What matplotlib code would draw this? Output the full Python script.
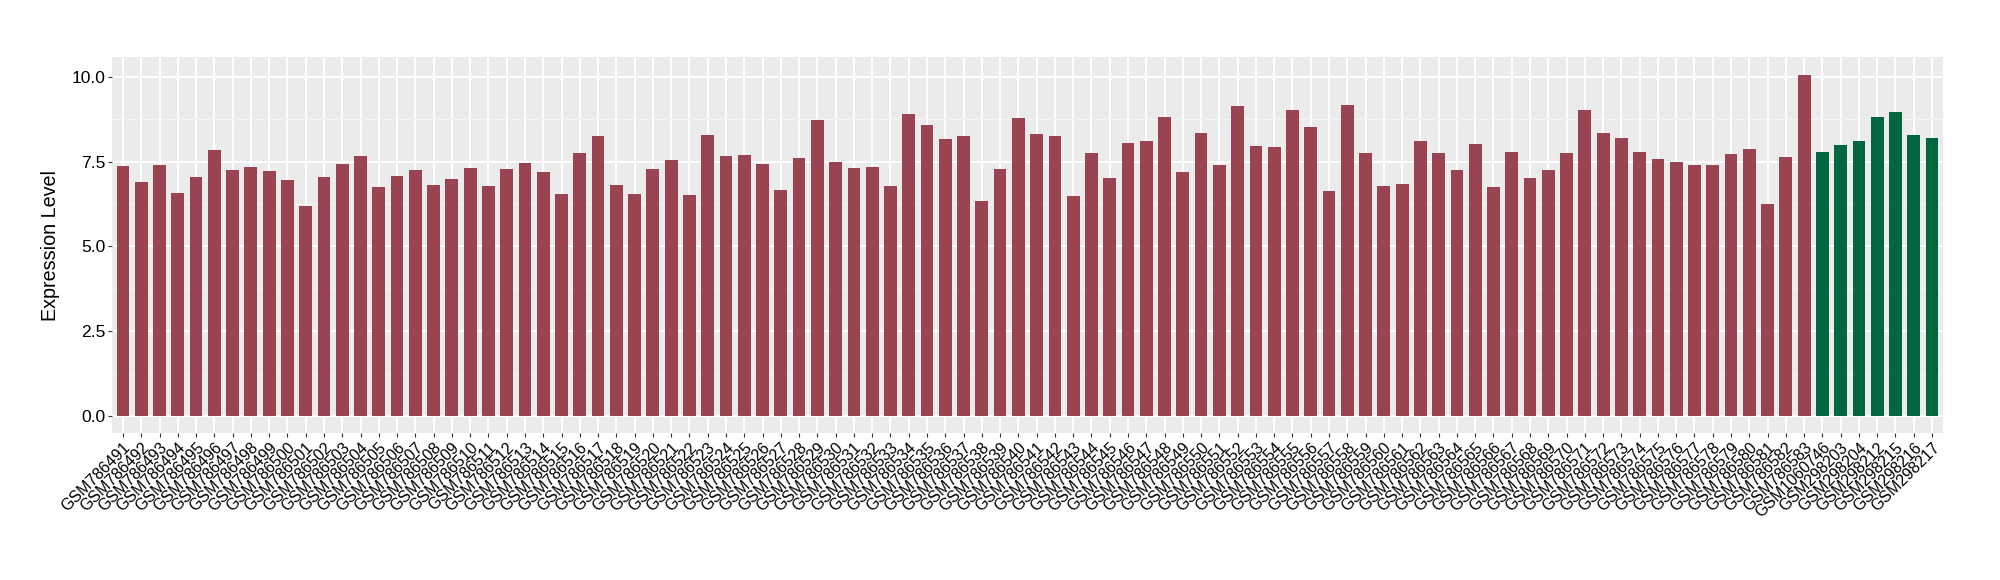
import numpy as np
import matplotlib
matplotlib.use("Agg")
import matplotlib.pyplot as plt
from matplotlib.ticker import MultipleLocator

# sample names: 93 tumour-ish samples then 7 controls
red_samples = ["GSM%d" % n for n in range(786491, 786584)]
green_samples = ["GSM1060746", "GSM298203", "GSM298204", "GSM298212",
                 "GSM298215", "GSM298216", "GSM298217"]

red_values = [
    7.38, 6.91, 7.41, 6.56, 7.03, 7.85, 7.24, 7.35, 7.21, 6.94,
    6.19, 7.03, 7.44, 7.65, 6.76, 7.06, 7.26, 6.82, 6.97, 7.32,
    6.79, 7.29, 7.47, 7.18, 6.53, 7.76, 8.24, 6.82, 6.53, 7.29,
    7.53, 6.50, 8.29, 7.65, 7.68, 7.44, 6.65, 7.59, 8.71, 7.50,
    7.32, 7.35, 6.79, 8.91, 8.59, 8.15, 8.24, 6.35, 7.29, 8.79,
    8.32, 8.26, 6.47, 7.74, 7.00, 8.06, 8.09, 8.82, 7.18, 8.35,
    7.41, 9.15, 7.97, 7.94, 9.03, 8.53, 6.62, 9.18, 7.74, 6.79,
    6.85, 8.09, 7.76, 7.24, 8.03, 6.74, 7.79, 7.00, 7.24, 7.76,
    9.03, 8.35, 8.18, 7.79, 7.56, 7.50, 7.41, 7.41, 7.71, 7.88,
    6.26, 7.62, 10.06,
]
green_values = [7.79, 8.00, 8.09, 8.82, 8.97, 8.29, 8.18]

samples = red_samples + green_samples
values = red_values + green_values
colors = ["#9A4351"] * len(red_values) + ["#00673F"] * len(green_values)

fig = plt.figure(figsize=(20, 5.8), dpi=100)
ax = fig.add_axes([0.056, 0.2534, 0.9155, 0.6483])
ax.set_facecolor("#EBEBEB")

x = np.arange(len(samples))
ax.bar(x, values, width=0.7, color=colors, zorder=3)

ax.set_xlim(-0.6, len(samples) - 0.4)
ax.set_ylim(-0.504, 10.58)

# ggplot-ish grid
ax.yaxis.set_major_locator(MultipleLocator(2.5))
ax.yaxis.set_minor_locator(MultipleLocator(1.25))
ax.grid(which="major", axis="both", color="white", linewidth=1.4, zorder=1)
ax.grid(which="minor", axis="y", color="#F5F5F5", linewidth=0.8, zorder=1)
for s in ax.spines.values():
    s.set_visible(False)

ax.set_xticks(x)
ax.set_xticklabels(samples, rotation=45, ha="right", va="top",
                   rotation_mode="anchor", fontsize=11.5,
                   family=["Liberation Sans", "DejaVu Sans"])
ax.set_yticks([0, 2.5, 5, 7.5, 10])
ax.set_yticklabels(["0.0", "2.5", "5.0", "7.5", "10.0"], fontsize=12.6,
                   family=["Liberation Sans Narrow", "Liberation Sans"])
ax.tick_params(axis="both", which="major", length=3, width=0.8,
               color="#333333", labelcolor="black", pad=2)
ax.tick_params(axis="y", which="minor", length=0)

ax.set_ylabel("Expression Level", fontsize=14.2, family="Liberation Sans",
              labelpad=8)

fig.savefig("out.png", dpi=100)
